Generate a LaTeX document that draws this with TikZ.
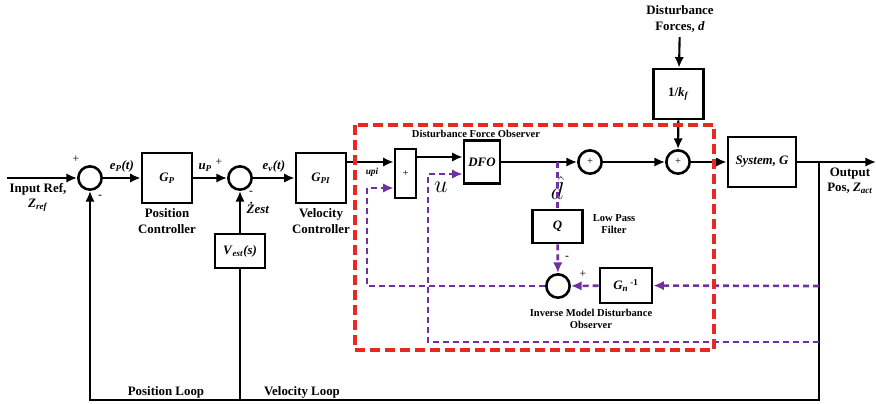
\documentclass[tikz,border=0pt]{standalone}
\usepackage{fontspec}
\setmainfont{Liberation Serif}
\usetikzlibrary{arrows.meta, positioning}
\definecolor{obspurple}{RGB}{112,48,160}
\definecolor{dfored}{RGB}{232,40,36}
\newcommand{\bsub}[2]{\textit{#1}\textsubscript{\textit{#2}}}

\begin{document}
\begin{tikzpicture}[
    x=0.3mm, y=-0.3mm,
    >={Latex[length=3.2mm, width=2.8mm]},
    every node/.style={font=\fontsize{11}{13}\selectfont\bfseries},
    line width=1.8pt,
    block/.style={draw, line width=2.2pt, minimum width=15mm, minimum height=15mm, inner sep=0pt},
    sumc/.style={draw, circle, line width=2.2pt, minimum size=7mm, inner sep=0pt, font=\normalfont\small},
    sign/.style={font=\fontsize{10}{10}\selectfont},
    note/.style={font=\fontsize{9}{10.5}\selectfont\bfseries, align=center},
    obs/.style={obspurple, line width=2.2pt, dash pattern=on 1.8mm off 1.2mm},
    dfobox/.style={dfored, line width=3.2pt, dash pattern=on 3mm off 1.5mm},
]
\useasboundingbox (0,0) rectangle (876,403);

% Summing junctions
\node[sumc] (s1) at (90,178) {};
\node[sumc] (s2) at (240,178) {};
\node[sumc] (s3) at (590,162) {+};
\node[sumc] (s4) at (678,162) {+};
\node[sumc] (s5) at (558,286) {};

% Blocks
\node[block] (gp) at (167,178) {\bsub{G}{P}};
\node[block] (gpi) at (321,178) {\bsub{G}{PI}};
\node[block, minimum height=10.2mm] (vest) at (240,251) {\bsub{V}{est}\textit{(s)}};
\node[block, minimum width=6.3mm, minimum height=14.7mm, font=\normalfont\small] (sumr) at (405.5,173.5) {+};
\node[block, minimum width=10.8mm, minimum height=12.9mm] (dfo) at (482,162) {\textit{DFO}};
\node[block, minimum height=9.9mm] (q) at (557.5,226.5) {\textit{Q}};
\node[block, minimum width=15.6mm, minimum height=10.5mm] (gn) at (626,285.5) {\bsub{G}{n}\,\textsuperscript{-1}};
\node[block] (kf) at (678.5,94) {1/\bsub{k}{f}};
\node[block, minimum width=20.4mm] (sys) at (762,162) {\textit{System, G}};

% Texts
\node[align=center] (inlbl) at (38,197) {Input Ref,\\ \bsub{Z}{ref}};
\node[align=center] (gplbl) at (167,221) {Position\\Controller};
\node[align=center] (gpilbl) at (321,221) {Velocity\\Controller};
\node[align=center] (distlbl) at (680,19) {Disturbance\\Forces, \textit{d}};
\node[align=center] (outlbl) at (850,181) {Output\\Pos, \bsub{Z}{act}};
\node (poslbl) at (166,392) {Position Loop};
\node (vellbl) at (302,392) {Velocity Loop};
\node[note] (dfolbl) at (476,134) {Disturbance Force Observer};
\node[note] (qlbl) at (614,224) {Low Pass\\Filter};
\node[note] (invlbl) at (591,319) {Inverse Model Disturbance\\Observer};
\node (zest) at (258,208) {\textit{\.Zest}};
\node[font=\fontsize{8}{8}\selectfont\bfseries\itshape] (upilbl) at (372,172) {upi};
\node[font=\fontsize{21}{21}\selectfont, inner sep=0pt] (ulbl) at (441,187) {$u$};
\node[font=\fontsize{22}{22}\selectfont, inner sep=0pt] (dlbl) at (557,188) {$\hat{d}$};

% Signs
\node[sign] at (76,159) {+};
\node[sign] at (100,197) {-};
\node[sign] at (219,162) {+};
\node[sign] at (251,193) {-};
\node[sign] at (567,258) {-};
\node[sign] at (583,274) {+};

% Points
\coordinate (inp) at (7,178);
\coordinate (out) at (876,162);
\coordinate (jo) at (819,162);
\coordinate (pl) at (90,400);
\coordinate (vl) at (240,400);
\coordinate (ob1) at (819,286);
\coordinate (ob2) at (819,342);
\coordinate (ucor) at (428,342);
\coordinate (fbc) at (367,286);
\coordinate (upi) at ([yshift=4.8mm]gpi.east);
\coordinate (sumo) at ([yshift=4.95mm]sumr.east);
\coordinate (uin) at ([yshift=-3.6mm]dfo.west);
\coordinate (fbin) at ([yshift=-4.35mm]sumr.west);
\coordinate (tap) at (q.north |- dfo.east);

% Main loop
\draw[->] (inp) -- (s1);
\draw[->] (s1) -- node[above=1pt] {\bsub{e}{P}\textit{(t)}} (gp);
\draw[->] (gp) -- node[above=1pt, xshift=-1.5mm] {\bsub{u}{P}} (s2);
\draw[->] (s2) -- node[above=1pt] {\bsub{e}{v}\textit{(t)}} (gpi);
\draw[->] (upi) -- (upi -| sumr.west);
\draw[->] (sumo) -- (sumo -| dfo.west);
\draw[->] (dfo) -- (s3);
\draw[->] (s3) -- (s4);
\draw[->] (distlbl) -- (kf);
\draw[->] (kf) -- (s4);
\draw[->] (s4) -- (sys);
\draw[->] (sys) -- (out);
\draw[->] (jo) |- (pl) -- (s1);
\draw (vl) -- (vest);
\draw[->] (vest) -- (s2);

% Observer
\draw[obs] (tap) -- (q);
\draw[obs, ->] (q) -- (s5);
\draw[obs, ->] (ob1) -- (gn);
\draw[obs, ->] (gn) -- (s5);
\draw[obs, ->] (s5) -- (fbc) |- (fbin);
\draw[obs, ->] (ob2) -- (ucor) |- (uin);

% Observer frame
\draw[dfobox] (355,125) rectangle (714,350);

\end{tikzpicture}
\end{document}
